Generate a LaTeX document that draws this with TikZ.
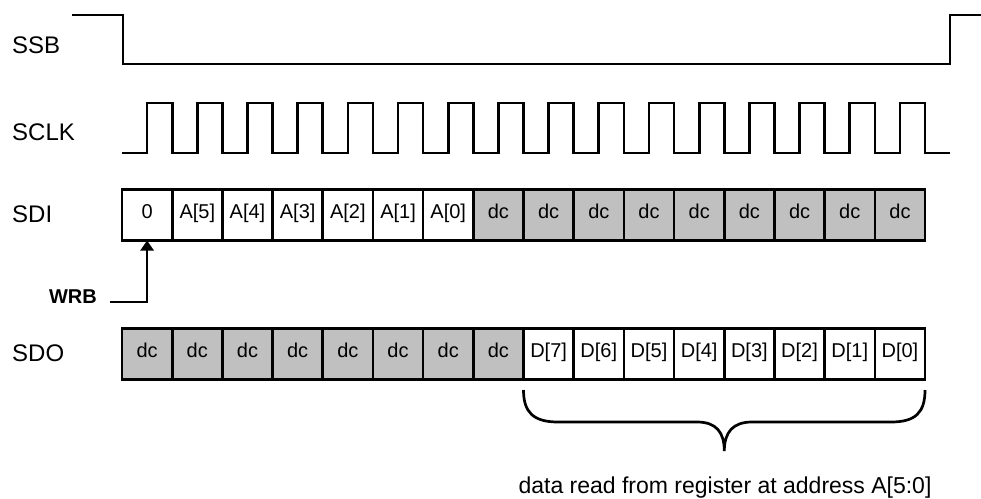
\documentclass[tikz,border=0pt]{standalone}
\usepackage{fontspec}
\setmainfont{Liberation Sans}
\usetikzlibrary{arrows.meta}
\definecolor{dcgray}{RGB}{192,192,192}
\begin{document}
\begin{tikzpicture}[x=1pt,y=-1pt,
  sig/.style={line width=2.7pt, line join=miter},
  lbl/.style={anchor=base west, inner sep=0pt, font=\fontsize{24}{28}\selectfont},
  cell/.style={draw, line width=2.7pt, minimum width=50.19pt, minimum height=51pt,
    inner sep=0pt, outer sep=0pt, text height=0.716em, text depth=0pt,
    font=\fontsize{20}{23}\selectfont},
  dccell/.style={cell, fill=dcgray},
  valcell/.style={cell, fill=white}]
\useasboundingbox (0,0) rectangle (981,498);

% labels
\node[lbl] (lssb) at (12,53) {SSB};
\node[lbl] (lsclk) at (12,140) {SCLK};
\node[lbl] (lsdi) at (12,222) {SDI};
\node[lbl] (lsdo) at (12,361) {SDO};

% SSB
\coordinate (ssbS) at (72,15);
\coordinate (ssbE) at (981,15);
\draw[sig] (ssbS) -- (123,15) -- (123,64) -- (950,64) -- (950,15) -- (ssbE);

% SCLK
\draw[sig] (122,153)
  foreach \k in {0,...,15} {
    -- ({122+50.19*(\k+0.5)},153) -- ({122+50.19*(\k+0.5)},103)
    -- ({122+50.19*(\k+1)},103) -- ({122+50.19*(\k+1)},153)
  } -- (950,153);

% SDI cells
\node[valcell] (sdi0) at ({122+50.19*0.5},215) {0};
\foreach \t [count=\i] in {5,4,3,2,1,0}
  \node[valcell] (sdi\i) at ({122+50.19*(\i+0.5)},215) {A[\t]};
\foreach \i in {7,...,15}
  \node[dccell] (sdi\i) at ({122+50.19*(\i+0.5)},215) {dc};

% SDO cells
\foreach \i in {0,...,7}
  \node[dccell] (sdo\i) at ({122+50.19*(\i+0.5)},354) {dc};
\foreach \t [count=\i from 8] in {7,6,5,4,3,2,1,0}
  \node[valcell] (sdo\i) at ({122+50.19*(\i+0.5)},354) {D[\t]};

% WRB
\node[anchor=base east, inner sep=0pt, font=\bfseries\fontsize{20}{24}\selectfont] (wrb) at (97,303) {WRB};
\coordinate (wrbL) at (110,302);
\draw[sig, -{Triangle[length=10pt,width=13pt]}] (wrbL) -| (sdi0.south);

% brace
\coordinate (bL) at (523.5,390);
\coordinate (bR) at (925,390);
\coordinate (bT) at (724.3,451);
\draw[line width=2.7pt] (bL) .. controls (523.5,412) and (533,422) .. (558,422)
  -- (697,422) .. controls (716,422) and (724.3,432) .. (bT)
  .. controls (724.3,432) and (733,422) .. (752,422)
  -- (891,422) .. controls (916,422) and (925,412) .. (bR);

\node[anchor=base, inner sep=0pt, font=\fontsize{23}{27}\selectfont] (cap) at (725,493)
  {data read from register at address A[5:0]};
\end{tikzpicture}
\end{document}
